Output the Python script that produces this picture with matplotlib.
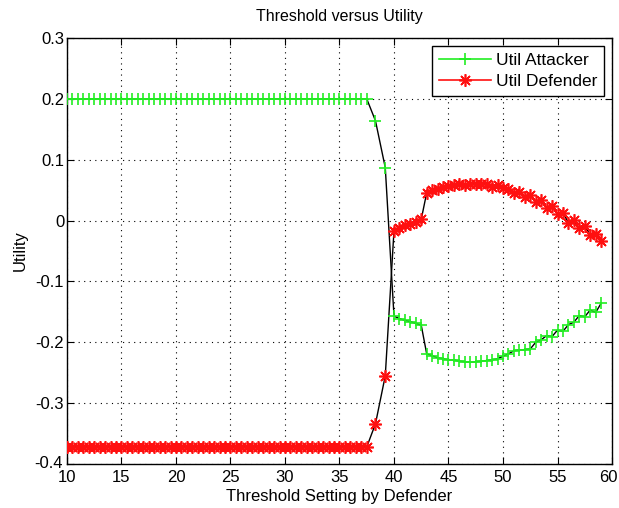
import matplotlib
matplotlib.use("Agg")
import matplotlib.pyplot as plt
import matplotlib.transforms as mtransforms
from matplotlib.lines import Line2D

plt.rcParams['font.family'] = ['Liberation Sans', 'DejaVu Sans']

# ---------------- data ----------------
threshold = [10.0, 10.5, 11.0, 11.5, 12.0, 12.5, 13.0, 13.5, 14.0, 14.5,
             15.0, 15.5, 16.0, 16.5, 17.0, 17.5, 18.0, 18.5, 19.0, 19.5,
             20.0, 20.5, 21.0, 21.5, 22.0, 22.5, 23.0, 23.5, 24.0, 24.5,
             25.0, 25.5, 26.0, 26.5, 27.0, 27.5, 28.0, 28.5, 29.0, 29.5,
             30.0, 30.5, 31.0, 31.5, 32.0, 32.5, 33.0, 33.5, 34.0, 34.5,
             35.0, 35.5, 36.0, 36.5, 37.0, 37.5,
             38.3, 39.2,
             40.0, 40.5, 41.0, 41.5, 42.0, 42.5,
             43.0, 43.5, 44.0, 44.5, 45.0, 45.5, 46.0, 46.5, 47.0, 47.5,
             48.0, 48.5, 49.0, 49.5, 50.0, 50.5, 51.0, 51.5, 52.0, 52.5,
             53.0, 53.5, 54.0, 54.5, 55.0, 55.5, 56.0, 56.5, 57.0, 57.5,
             58.0, 58.5, 59.0]

util_attacker = [0.2, 0.2, 0.2, 0.2, 0.2, 0.2, 0.2, 0.2, 0.2, 0.2,
                 0.2, 0.2, 0.2, 0.2, 0.2, 0.2, 0.2, 0.2, 0.2, 0.2,
                 0.2, 0.2, 0.2, 0.2, 0.2, 0.2, 0.2, 0.2, 0.2, 0.2,
                 0.2, 0.2, 0.2, 0.2, 0.2, 0.2, 0.2, 0.2, 0.2, 0.2,
                 0.2, 0.2, 0.2, 0.2, 0.2, 0.2, 0.2, 0.2, 0.2, 0.2,
                 0.2, 0.2, 0.2, 0.2, 0.2, 0.2,
                 0.164, 0.087,
                 -0.157, -0.161, -0.164, -0.166, -0.169, -0.172,
                 -0.219, -0.222, -0.2255, -0.227, -0.229, -0.229, -0.231, -0.232, -0.233, -0.232,
                 -0.231, -0.230, -0.229, -0.227, -0.223, -0.219, -0.214, -0.2125, -0.212, -0.211,
                 -0.200, -0.196, -0.189, -0.1905, -0.180, -0.182, -0.171, -0.167, -0.156, -0.158,
                 -0.147, -0.151, -0.136]

util_defender = [-0.372, -0.372, -0.372, -0.372, -0.372, -0.372, -0.372, -0.372, -0.372, -0.372,
                 -0.372, -0.372, -0.372, -0.372, -0.372, -0.372, -0.372, -0.372, -0.372, -0.372,
                 -0.372, -0.372, -0.372, -0.372, -0.372, -0.372, -0.372, -0.372, -0.372, -0.372,
                 -0.372, -0.372, -0.372, -0.372, -0.372, -0.372, -0.372, -0.372, -0.372, -0.372,
                 -0.372, -0.372, -0.372, -0.372, -0.372, -0.372, -0.372, -0.372, -0.372, -0.372,
                 -0.372, -0.372, -0.372, -0.372, -0.372, -0.372,
                 -0.334, -0.255,
                 -0.0165, -0.012, -0.008, -0.0058, -0.002, 0.002,
                 0.0457, 0.0496, 0.0513, 0.055, 0.0567, 0.0583, 0.0595, 0.0583, 0.0595, 0.0605,
                 0.0595, 0.0605, 0.055, 0.0583, 0.0529, 0.0513, 0.0457, 0.0473, 0.0386, 0.0419,
                 0.0309, 0.0331, 0.020, 0.0238, 0.0101, 0.0129, -0.0036, 0.0003, -0.0129, -0.009,
                 -0.0238, -0.0217, -0.0337]

xticks = [10, 15, 20, 25, 30, 35, 40, 45, 50, 55, 60]
xtick_labels = ['10', '15', '20', '25', '30', '35', '40', '45', '50', '55', '60']
yticks = [0.3, 0.2, 0.1, 0.0, -0.1, -0.2, -0.3, -0.4]
ytick_labels = ['0.3', '0.2', '0.1', '0', '-0.1', '-0.2', '-0.3', '-0.4']
series_names = ['Util Attacker', 'Util Defender']

# ---------------- figure ----------------
fig = plt.figure(figsize=(6.19, 5.08), dpi=100)
ax = fig.add_axes([0.1082, 0.0866, 0.8805, 0.8386])

green = '#22ee22'
red = '#ff1010'
star = (8, 2, 0)

# connecting lines (black) under markers
ax.plot(threshold, util_attacker, color='black', lw=1.0, zorder=2)
ax.plot(threshold, util_defender, color='black', lw=1.0, zorder=2)
# markers
ax.plot(threshold, util_attacker, linestyle='none', marker='+', markersize=9,
        markeredgewidth=1.2, color=green, zorder=3)
ax.plot(threshold, util_defender, linestyle='none', marker=star, markersize=9,
        markeredgewidth=1.2, color=red, zorder=3)

ax.set_xlim(10, 60)
ax.set_ylim(-0.4, 0.3)
ax.set_xticks(xticks)
ax.set_xticklabels(xtick_labels)
ax.set_yticks(yticks)
ax.set_yticklabels(ytick_labels)
ax.tick_params(direction='in', length=5, width=0.8, top=True, right=True,
               labelsize=12)
ax.tick_params(axis='x', pad=4)
ax.tick_params(axis='y', pad=2)
ax.grid(True, color='black', linestyle=(0, (1, 4)), linewidth=0.8)
for s in ax.spines.values():
    s.set_linewidth(1.0)
    s.set_color('black')

# keep the last x tick label inside the picture
last = ax.get_xticklabels()[-1]
last.set_horizontalalignment('right')
last.set_transform(last.get_transform() +
                   mtransforms.ScaledTranslation(6 / 100, 0, fig.dpi_scale_trans))
# lift the lowest y tick label slightly off the x labels
low = ax.get_yticklabels()[-1]
low.set_transform(low.get_transform() +
                  mtransforms.ScaledTranslation(-1 / 100, 2 / 100, fig.dpi_scale_trans))

ax.set_title('Threshold versus Utility', fontsize=11.5, pad=12)
ax.set_xlabel('Threshold Setting by Defender', fontsize=12, labelpad=3)
ax.set_ylabel('Utility', fontsize=12, labelpad=5)

handles = [Line2D([], [], color=green, lw=1.2, marker='+', markersize=9, markeredgewidth=1.2),
           Line2D([], [], color=red, lw=1.2, marker=star, markersize=9, markeredgewidth=1.2)]
leg = ax.legend(handles, series_names, loc='upper right', fontsize=12.5,
                fancybox=False, framealpha=1, edgecolor='black',
                handlelength=3.0, borderaxespad=0.45, borderpad=0.4,
                labelspacing=0.35, handletextpad=0.3)
leg.get_frame().set_linewidth(1.0)

fig.savefig('out.png', dpi=100)
